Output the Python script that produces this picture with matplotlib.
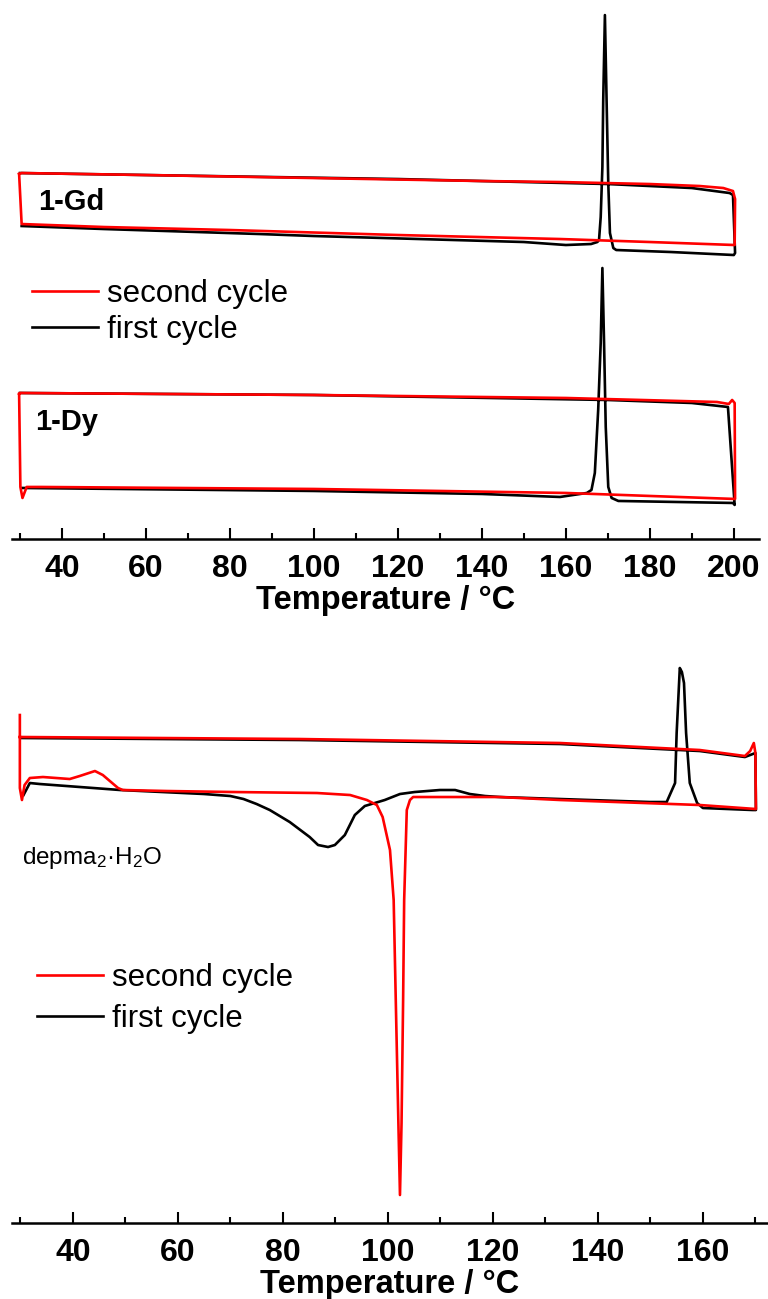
import matplotlib
matplotlib.use('Agg')
import matplotlib.pyplot as plt
from matplotlib.ticker import MultipleLocator

plt.rcParams['font.family'] = ['Liberation Sans', 'DejaVu Sans']
plt.rcParams['mathtext.fontset'] = 'custom'
plt.rcParams['mathtext.rm'] = 'Liberation Sans'
plt.rcParams['mathtext.default'] = 'regular'

RED = '#ff0000'
LW = 1.9

# ---- top panel: 1-Gd (upper loop) and 1-Dy (lower loop), heat flow a.u.
gd_second_T = [29.8, 30.4, 60, 100, 140, 158.6, 180, 191.9, 197.5, 199.8, 200.3, 200.2,
               180, 158.6, 120, 80, 50, 30.4, 29.8]
gd_second_y = [3.65, 3.66, 3.64, 3.61, 3.58, 3.57, 3.55, 3.53, 3.51, 3.48, 3.40, 2.94,
               2.97, 3.00, 3.04, 3.09, 3.12, 3.15, 3.65]
gd_first_T = [30.4, 50, 87, 100, 150, 160, 166.0, 167.5, 167.9, 168.3, 168.7, 168.9, 169.3,
              169.7, 170.1, 170.5, 171.3, 172.0, 185, 200.0, 200.3, 199.8, 199, 190, 170,
              120, 60, 30]
gd_first_y = [3.13, 3.10, 3.05, 3.03, 2.97, 2.94, 2.95, 2.97, 2.99, 3.22, 3.72, 4.39, 5.24,
              4.39, 3.56, 3.06, 2.91, 2.89, 2.87, 2.84, 2.86, 3.44, 3.46, 3.51, 3.55,
              3.60, 3.64, 3.66]

dy_second_T = [29.8, 30.0, 100, 160, 196, 198.8, 199.6, 200.2, 200.3, 180, 160, 100, 35,
               31.6, 30.6, 30.1, 29.8]
dy_second_y = [1.45, 1.46, 1.44, 1.41, 1.37, 1.35, 1.39, 1.36, 0.40, 0.43, 0.46, 0.50, 0.52,
               0.52, 0.41, 0.52, 1.45]
dy_first_T = [30.6, 100, 140, 158.6, 165.0, 166.1, 166.9, 167.7, 168.3, 168.7, 169.1, 169.5,
              170.1, 170.9, 172.5, 199.8, 200.2, 198.6, 190, 170, 100, 30]
dy_first_y = [0.51, 0.48, 0.45, 0.42, 0.46, 0.49, 0.66, 1.29, 1.96, 2.71, 1.96, 1.12,
              0.52, 0.41, 0.38, 0.36, 0.34, 1.32, 1.36, 1.39, 1.44, 1.46]

# ---- bottom panel: depma2.H2O
dep_second_T = [29.9, 29.9, 30.3, 30.8, 31.8, 34.3, 39.4, 41.3, 44.2, 45.7, 48.6, 49.5, 57.9,
                70.5, 86.5, 92.8, 96.0, 97.9, 99.0, 100.4, 101.1, 101.5, 102.0, 102.3, 102.6,
                102.9, 103.1, 103.6, 104.2, 104.8, 121.3, 132.8, 159.4, 170.1, 170.0, 169.7,
                169.0, 168.0, 159.4, 132.8, 83.2, 30.3, 29.9]
dep_second_y = [5.08, 4.35, 4.23, 4.38, 4.45, 4.46, 4.44, 4.47, 4.52, 4.48, 4.35, 4.33, 4.32,
                4.31, 4.30, 4.28, 4.23, 4.18, 4.06, 3.73, 3.23, 2.23, 1.00, 0.28, 1.00,
                2.23, 3.23, 4.13, 4.23, 4.26, 4.26, 4.23, 4.18, 4.14, 4.70, 4.80,
                4.72, 4.67, 4.73, 4.80, 4.84, 4.86, 4.86]
dep_first_T = [30.6, 31.8, 33.7, 49.0, 65.0, 70.0, 72.5, 75.0, 77.5, 81.3, 85.1, 86.7, 88.6,
               89.9, 91.8, 93.7, 95.6, 97.5, 99.4, 102.3, 105.1, 109.9, 112.8, 115.6, 118.5,
               121.3, 132.8, 149.9, 153.1, 154.7, 155.0, 155.6, 156.0, 156.4, 156.8, 157.5,
               158.9, 160.0, 169.5, 170.1, 170.0, 168.0, 159.4, 132.8, 83.2, 30.3]
dep_first_y = [4.28, 4.40, 4.39, 4.33, 4.29, 4.27, 4.24, 4.19, 4.13, 4.01, 3.86, 3.78, 3.76,
               3.78, 3.88, 4.08, 4.17, 4.20, 4.23, 4.29, 4.31, 4.33, 4.33, 4.29, 4.27,
               4.26, 4.24, 4.21, 4.21, 4.40, 4.90, 5.55, 5.51, 5.40, 4.90, 4.40,
               4.20, 4.15, 4.13, 4.13, 4.70, 4.66, 4.72, 4.79, 4.83, 4.85]

top_ticks = [40, 60, 80, 100, 120, 140, 160, 180, 200]
bot_ticks = [40, 60, 80, 100, 120, 140, 160]
legend_labels = ['second cycle', 'first cycle']

fig = plt.figure(figsize=(7.68, 12.99), dpi=100)
ax1 = fig.add_axes([0.0156, 0.5851, 0.9727, 0.4110])
ax2 = fig.add_axes([0.0156, 0.0585, 0.9844, 0.4488])


def style(ax, ticks, xlim, ylim):
    ax.set_xlim(*xlim)
    ax.set_ylim(*ylim)
    for s in ['left', 'right', 'top']:
        ax.spines[s].set_visible(False)
    ax.spines['bottom'].set_linewidth(1.8)
    ax.set_yticks([])
    ax.set_xticks(ticks)
    ax.xaxis.set_minor_locator(MultipleLocator(10))
    ax.tick_params(axis='x', which='major', direction='in', length=8, width=1.5,
                   labelsize=23, pad=11)
    ax.tick_params(axis='x', which='minor', direction='in', length=4, width=1.5)
    for lab in ax.get_xticklabels():
        lab.set_fontweight('bold')
    ax.set_xlabel('Temperature / °C', fontsize=23.5, fontweight='bold', labelpad=0.5)


# top panel
ax1.plot(gd_first_T, gd_first_y, color='black', lw=LW)
ax1.plot(gd_second_T, gd_second_y, color=RED, lw=LW)
bl, = ax1.plot(dy_first_T, dy_first_y, color='black', lw=LW)
rd, = ax1.plot(dy_second_T, dy_second_y, color=RED, lw=LW)
ax1.text(34.3, 3.37, '1-Gd', fontsize=21, fontweight='bold', va='center')
ax1.text(33.6, 1.17, '1-Dy', fontsize=21, fontweight='bold', va='center')
style(ax1, top_ticks, (28.1, 206.0), (0, 5.34))
ax1.legend([rd, bl], legend_labels, loc='upper left', frameon=False, fontsize=22.5,
           bbox_to_anchor=(32 / 768, 1 - 279 / 1299), bbox_transform=fig.transFigure,
           borderpad=0, borderaxespad=0, handlelength=2.1, handletextpad=0.3,
           labelspacing=0.2)

# bottom panel
bl2, = ax2.plot(dep_first_T, dep_first_y, color='black', lw=LW)
rd2, = ax2.plot(dep_second_T, dep_second_y, color=RED, lw=LW)
ax2.text(30.3, 3.65, r'depma$_2$·H$_2$O', fontsize=17.5, va='center')
style(ax2, bot_ticks, (28.4, 172.4), (0, 5.83))
ax2.legend([rd2, bl2], legend_labels, loc='upper left', frameon=False, fontsize=22.5,
           bbox_to_anchor=(37 / 768, 1 - 963 / 1299), bbox_transform=fig.transFigure,
           borderpad=0, borderaxespad=0, handlelength=2.1, handletextpad=0.3,
           labelspacing=0.36)

fig.savefig('out.png', dpi=100)
